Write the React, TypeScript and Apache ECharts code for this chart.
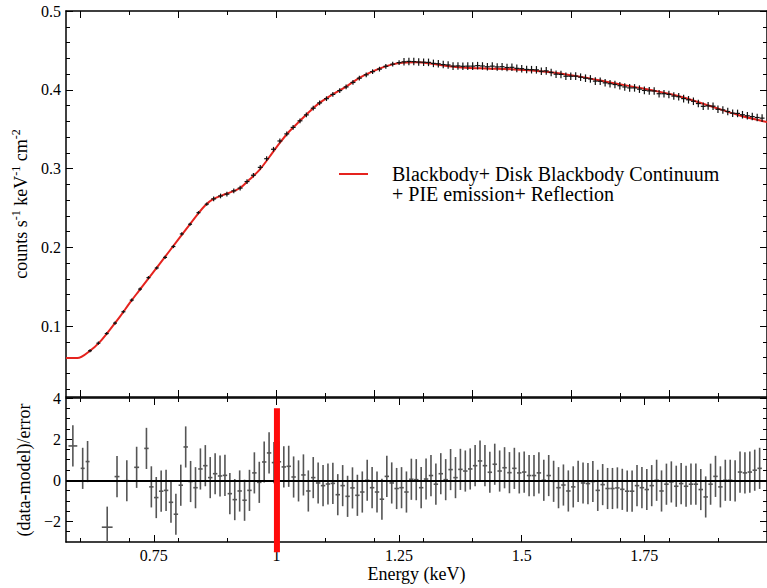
import React, { useEffect, useRef } from "react";
import * as echarts from "echarts";

const FONT = "'Liberation Serif', 'Times New Roman', Times, serif";

// ---- model curve (top panel, red) ----
const MODEL_E = [0.571, 0.594, 0.62, 0.64, 0.661, 0.681, 0.701, 0.72, 0.76, 0.8, 0.84, 0.855, 0.87, 0.898, 0.925, 0.945, 0.965, 0.986, 1.006, 1.026, 1.047, 1.067, 1.087, 1.114, 1.142, 1.169, 1.195, 1.224, 1.25, 1.285, 1.317, 1.352, 1.386, 1.427, 1.48, 1.549, 1.616, 1.683, 1.752, 1.819, 1.886, 1.941, 2.0];
const MODEL_FLUX = [0.0595, 0.0595, 0.0687, 0.08, 0.096, 0.112, 0.1295, 0.145, 0.1775, 0.21, 0.2425, 0.2535, 0.261, 0.268, 0.275, 0.286, 0.298, 0.315, 0.332, 0.347, 0.36, 0.372, 0.383, 0.394, 0.404, 0.415, 0.423, 0.43, 0.434, 0.435, 0.433, 0.43, 0.428, 0.427, 0.426, 0.423, 0.417, 0.409, 0.401, 0.392, 0.379, 0.368, 0.359];

// ---- data points (top panel, black crosses) ----
const TOP_LOW_E = [0.62, 0.637, 0.654, 0.671, 0.688, 0.705, 0.722, 0.739, 0.756, 0.773, 0.79, 0.807, 0.824, 0.841, 0.858];
const TOP_LOW_FLUX = [0.0687, 0.0783, 0.0906, 0.1038, 0.1182, 0.133, 0.147, 0.1615, 0.1738, 0.1872, 0.201, 0.217, 0.2293, 0.244, 0.2548];
const TOP_LOW_ERR = 0.002;
const TOP_LOW_HW = 0.004;

const TOP_MID_E = [0.872, 0.886, 0.899, 0.913, 0.926, 0.94, 0.953, 0.967, 0.98, 0.994, 1.007, 1.021, 1.034, 1.048, 1.061, 1.075, 1.088, 1.102, 1.115, 1.129, 1.142, 1.156, 1.169, 1.183, 1.196, 1.21, 1.223, 1.237, 1.25];
const TOP_MID_FLUX = [0.2615, 0.2652, 0.2675, 0.2717, 0.2752, 0.2835, 0.2915, 0.3015, 0.3125, 0.3245, 0.335, 0.344, 0.3522, 0.3606, 0.3681, 0.3766, 0.3833, 0.3887, 0.3941, 0.399, 0.4036, 0.4093, 0.4147, 0.419, 0.423, 0.4262, 0.4298, 0.4325, 0.4345];
const TOP_MID_ERR = 0.003;
const TOP_MID_HW = 0.005;

const TOP_HIGH_E = [
  1.26, 1.27, 1.28, 1.29, 1.3, 1.31, 1.32, 1.33, 1.34, 1.35,
  1.36, 1.37, 1.38, 1.39, 1.4, 1.41, 1.42, 1.43, 1.44, 1.45,
  1.46, 1.47, 1.48, 1.49, 1.5, 1.51, 1.52, 1.53, 1.54, 1.55,
  1.56, 1.57, 1.58, 1.59, 1.6, 1.61, 1.62, 1.63, 1.64, 1.65,
  1.66, 1.67, 1.68, 1.69, 1.7, 1.71, 1.72, 1.73, 1.74, 1.75,
  1.76, 1.77, 1.78, 1.79, 1.8, 1.81, 1.82, 1.83, 1.84, 1.85,
  1.86, 1.87, 1.88, 1.89, 1.9, 1.91, 1.92, 1.93, 1.94, 1.95,
  1.96, 1.97, 1.98, 1.99,
];
const TOP_HIGH_FLUX = [
  0.4355, 0.436, 0.4358, 0.4352, 0.435, 0.4348, 0.4335, 0.433, 0.432, 0.4315,
  0.43, 0.4303, 0.4298, 0.43, 0.43, 0.4306, 0.4302, 0.4292, 0.43, 0.429,
  0.4293, 0.4282, 0.4285, 0.4272, 0.4268, 0.4258, 0.4255, 0.4253, 0.4235, 0.424,
  0.422, 0.4198, 0.4195, 0.4172, 0.4172, 0.4173, 0.416, 0.4147, 0.4138, 0.411,
  0.4108, 0.4088, 0.4077, 0.4067, 0.4052, 0.4036, 0.4024, 0.4024, 0.4008, 0.3992,
  0.3986, 0.3985, 0.395, 0.395, 0.3941, 0.392, 0.3912, 0.3888, 0.3873, 0.3854,
  0.3825, 0.379, 0.3796, 0.3792, 0.3752, 0.3744, 0.3724, 0.3703, 0.37, 0.3683,
  0.367, 0.366, 0.3648, 0.364,
];
const TOP_HIGH_ERR = 0.0048;
const TOP_HIGH_HW = 0.005;

// ---- residuals (bottom panel) ----
const RESID_EARLY_E = [0.585, 0.605, 0.615, 0.655, 0.675, 0.695, 0.715];
const RESID_EARLY_VAL = [1.67, 0.58, 0.91, -2.28, 0.18, -0.02, 0.63];
const RESID_EARLY_HW = [0.009, 0.004, 0.004, 0.011, 0.005, 0.005, 0.005];

const RESID_E = [
  0.735, 0.745, 0.755, 0.765, 0.775, 0.785, 0.795, 0.805, 0.815, 0.825,
  0.835, 0.845, 0.855, 0.865, 0.875, 0.885, 0.895, 0.905, 0.915, 0.925,
  0.935, 0.945, 0.955, 0.965, 0.975, 0.985, 0.995, 1.005, 1.015, 1.025,
  1.035, 1.045, 1.055, 1.065, 1.075, 1.085, 1.095, 1.105, 1.115, 1.125,
  1.135, 1.145, 1.155, 1.165, 1.175, 1.185, 1.195, 1.205, 1.215, 1.225,
  1.235, 1.245, 1.255, 1.265, 1.275, 1.285, 1.295, 1.305, 1.315, 1.325,
  1.335, 1.345, 1.355, 1.365, 1.375, 1.385, 1.395, 1.405, 1.415, 1.425,
  1.435, 1.445, 1.455, 1.465, 1.475, 1.485, 1.495, 1.505, 1.515, 1.525,
  1.535, 1.545, 1.555, 1.565, 1.575, 1.585, 1.595, 1.605, 1.615, 1.625,
  1.635, 1.645, 1.655, 1.665, 1.675, 1.685, 1.695, 1.705, 1.715, 1.725,
  1.735, 1.745, 1.755, 1.765, 1.775, 1.785, 1.795, 1.805, 1.815, 1.825,
  1.835, 1.845, 1.855, 1.865, 1.875, 1.885, 1.895, 1.905, 1.915, 1.925,
  1.935, 1.945, 1.955, 1.965, 1.975, 1.985,
];
const RESID_VAL = [
  1.55, -0.32, -0.84, -0.53, -0.49, -1.07, -1.65, -0.24, 1.62, -0.06,
  -0.36, 0.55, 0.71, 0.13, 0.32, 0.21, 0.24, -0.65, -0.94, -0.52,
  -0.97, -0.49, 0.36, -0.1, 0.89, 1.33, 0.86, 0.9, 0.65, 0.68,
  0.16, -0.03, 0.26, -0.52, 0.13, -0.13, -0.26, -0.18, -0.15, -0.7,
  -0.26, -0.78, -0.37, -0.73, -0.57, 0.0, -0.36, -0.57, -0.92, 0.19,
  -0.13, -0.4, -0.36, -0.57, 0.05, 0.03, -0.36, 0.06, 0.23, -0.19,
  0.32, 0.03, 0.52, 0.13, 0.53, 0.45, 0.55, 0.71, 0.94, 0.71,
  0.39, 0.78, 0.45, 0.61, 0.37, 0.58, 0.36, 0.4, 0.23, 0.23,
  0.36, 0.0, 0.23, -0.05, -0.36, -0.23, -0.52, -0.32, -0.05, -0.13,
  -0.16, -0.06, -0.49, -0.21, -0.4, -0.4, -0.37, -0.44, -0.53, -0.53,
  -0.26, -0.36, -0.45, -0.26, 0.0, -0.52, -0.19, -0.08, -0.29, -0.16,
  -0.29, -0.19, -0.19, -0.45, -0.81, -0.19, 0.19, -0.32, 0.0, 0.0,
  -0.03, 0.4, 0.36, 0.4, 0.49, 0.58,
];
const RESID_HW = 0.0045;
const RESID_ERR = 1;

// highlighted energy (red bar) and its vertical extent in residual units
const MARK_E = 1.0;
const MARK_RANGE = [3.5, -3.5];

// ---- axes ----
const X_MIN = 0.571;
const X_MAX = 2.0;
const TOP_Y = [0.01, 0.5];
const BOT_Y = [-3, 4];
const TOP_X_MAJOR = [0.6, 0.8, 1.0, 1.2, 1.4, 1.6, 1.8];
const TOP_X_MINOR = [0.7, 0.9, 1.1, 1.3, 1.5, 1.7, 1.9];
const BOT_X_MAJOR = [0.75, 1, 1.25, 1.5, 1.75];
const BOT_X_MINOR = [0.6, 0.7, 0.8, 0.9, 1.1, 1.2, 1.3, 1.4, 1.6, 1.7, 1.8, 1.9];
const TOP_Y_MAJOR = [0.1, 0.2, 0.3, 0.4, 0.5];
const TOP_Y_MINOR = [0.02, 0.04, 0.06, 0.08, 0.12, 0.14, 0.16, 0.18, 0.22, 0.24, 0.26, 0.28, 0.32, 0.34, 0.36, 0.38, 0.42, 0.44, 0.46, 0.48];
const BOT_Y_MAJOR = [-2, 0, 2, 4];
const BOT_Y_MINOR = [-2.5, -1.5, -1, -0.5, 0.5, 1, 1.5, 2.5, 3, 3.5];

const LEGEND_LINES = ["Blackbody+ Disk Blackbody Continuum", "+ PIE emission+ Reflection"];
const RED = "#e5231e";
const LABEL_SIZE = 16;
const TITLE_SIZE = 18;

function crossRenderer(color: string, width: number) {
  return (params: any, api: any) => {
    const x = api.value(0);
    const y = api.value(1);
    const ey = api.value(2);
    const hw = api.value(3);
    const c = api.coord([x, y]);
    const t = api.coord([x, y + ey]);
    const b = api.coord([x, y - ey]);
    const l = api.coord([x - hw, y]);
    const r = api.coord([x + hw, y]);
    const style = { stroke: color, lineWidth: width, fill: "none" };
    return {
      type: "group",
      children: [
        { type: "line", shape: { x1: c[0], y1: t[1], x2: c[0], y2: b[1] }, style },
        { type: "line", shape: { x1: l[0], y1: c[1], x2: r[0], y2: c[1] }, style },
      ],
    };
  };
}

function xAxis(grid: number, position: string, ticks: number[], len: number, major: boolean, labels?: number[], name?: string) {
  return {
    type: "value",
    gridIndex: grid,
    position,
    min: X_MIN,
    max: X_MAX,
    name: name || "",
    nameLocation: "middle",
    nameGap: 23,
    nameTextStyle: { fontFamily: FONT, fontSize: TITLE_SIZE, color: "#000" },
    axisLine: { show: major, onZero: false, lineStyle: { color: "#000", width: 1.5 } },
    axisTick: { show: true, inside: true, length: len, customValues: ticks, lineStyle: { color: "#000", width: 1 } },
    axisLabel: labels
      ? { show: true, customValues: labels, fontFamily: FONT, fontSize: LABEL_SIZE, color: "#000", margin: 5 }
      : { show: false },
    splitLine: { show: false },
  };
}

function yAxis(grid: number, position: string, range: number[], ticks: number[], len: number, major: boolean, labels?: number[], name?: any, nameGap?: number) {
  return {
    type: "value",
    gridIndex: grid,
    position,
    min: range[0],
    max: range[1],
    name: name || "",
    nameLocation: "middle",
    nameGap: nameGap || 30,
    nameRotate: 90,
    nameTextStyle: {
      fontFamily: FONT,
      fontSize: TITLE_SIZE,
      color: "#000",
      rich: {
        a: { fontFamily: FONT, fontSize: TITLE_SIZE, color: "#000", lineHeight: 22 },
        s: { fontFamily: FONT, fontSize: 12, color: "#000", lineHeight: 14, verticalAlign: "top" },
      },
    },
    axisLine: { show: major, onZero: false, lineStyle: { color: "#000", width: 1.5 } },
    axisTick: { show: true, inside: true, length: len, customValues: ticks, lineStyle: { color: "#000", width: 1 } },
    axisLabel: labels
      ? {
          show: true,
          customValues: labels,
          fontFamily: FONT,
          fontSize: LABEL_SIZE,
          color: "#000",
          margin: 5,
          formatter: (v: number) => String(v).replace("-", "\u2212"),
        }
      : { show: false },
    splitLine: { show: false },
  };
}

export default function App() {
  const ref = useRef<HTMLDivElement>(null);
  useEffect(() => {
    document.body.style.margin = "0";
    const chart = echarts.init(ref.current!, null, { renderer: "svg" });

    const modelData = MODEL_E.map((e, i) => [e, MODEL_FLUX[i]]);
    const topData = [
      ...TOP_LOW_E.map((e, i) => [e, TOP_LOW_FLUX[i], TOP_LOW_ERR, TOP_LOW_HW]),
      ...TOP_MID_E.map((e, i) => [e, TOP_MID_FLUX[i], TOP_MID_ERR, TOP_MID_HW]),
      ...TOP_HIGH_E.map((e, i) => [e, TOP_HIGH_FLUX[i], TOP_HIGH_ERR, TOP_HIGH_HW]),
    ];
    const residData = [
      ...RESID_EARLY_E.map((e, i) => [e, RESID_EARLY_VAL[i], RESID_ERR, RESID_EARLY_HW[i]]),
      ...RESID_E.map((e, i) => [e, RESID_VAL[i], RESID_ERR, RESID_HW]),
    ];

    const option: any = {
      animation: false,
      backgroundColor: "#fff",
      grid: [
        { left: 66, right: -2, top: 11, height: 386 },
        { left: 66, right: -2, top: 398, height: 144 },
      ],
      xAxis: [
        xAxis(0, "bottom", TOP_X_MAJOR, 7, true),
        xAxis(0, "bottom", TOP_X_MINOR, 4, false),
        xAxis(0, "top", TOP_X_MAJOR, 7, true),
        xAxis(0, "top", TOP_X_MINOR, 4, false),
        xAxis(1, "bottom", BOT_X_MAJOR, 7, true, BOT_X_MAJOR, "Energy (keV)"),
        xAxis(1, "bottom", BOT_X_MINOR, 4, false),
        xAxis(1, "top", BOT_X_MAJOR, 7, true),
        xAxis(1, "top", BOT_X_MINOR, 4, false),
      ],
      yAxis: [
        yAxis(0, "left", TOP_Y, TOP_Y_MAJOR, 7, true, TOP_Y_MAJOR, "{a|counts s}{s|-1}{a| keV}{s|-1}{a| cm}{s|-2}", 33),
        yAxis(0, "left", TOP_Y, TOP_Y_MINOR, 4, false),
        yAxis(0, "right", TOP_Y, TOP_Y_MAJOR, 7, true),
        yAxis(0, "right", TOP_Y, TOP_Y_MINOR, 4, false),
        yAxis(1, "left", BOT_Y, BOT_Y_MAJOR, 7, true, BOT_Y_MAJOR, "(data-model)/error", 29),
        yAxis(1, "left", BOT_Y, BOT_Y_MINOR, 4, false),
        yAxis(1, "right", BOT_Y, BOT_Y_MAJOR, 7, true),
        yAxis(1, "right", BOT_Y, BOT_Y_MINOR, 4, false),
      ],
      series: [
        {
          name: "model",
          type: "line",
          xAxisIndex: 0,
          yAxisIndex: 0,
          data: modelData,
          showSymbol: false,
          symbol: "none",
          smooth: 0.35,
          lineStyle: { color: RED, width: 2 },
          z: 2,
        },
        {
          name: "data",
          type: "custom",
          xAxisIndex: 0,
          yAxisIndex: 0,
          data: topData,
          dimensions: ["e", "flux", "err", "hw"],
          encode: { x: 0, y: 1 },
          renderItem: crossRenderer("#111", 1.2),
          clip: true,
          z: 3,
        },
        {
          name: "residual",
          type: "custom",
          xAxisIndex: 4,
          yAxisIndex: 4,
          data: residData,
          dimensions: ["e", "res", "err", "hw"],
          encode: { x: 0, y: 1 },
          renderItem: crossRenderer("#555", 1.6),
          clip: true,
          z: 3,
        },
        {
          name: "zero",
          type: "line",
          xAxisIndex: 4,
          yAxisIndex: 4,
          data: [],
          markLine: {
            silent: true,
            symbol: ["none", "none"],
            label: { show: false },
            lineStyle: { color: "#000", width: 2.2, type: "solid" },
            data: [{ yAxis: 0 }],
          },
          z: 4,
        },
        {
          name: "mark",
          type: "custom",
          xAxisIndex: 4,
          yAxisIndex: 4,
          data: [[MARK_E, MARK_RANGE[0], MARK_RANGE[1]]],
          encode: { x: 0, y: [1, 2] },
          clip: false,
          z: 10,
          renderItem: (params: any, api: any) => {
            const t = api.coord([api.value(0), api.value(1)]);
            const b = api.coord([api.value(0), api.value(2)]);
            return {
              type: "rect",
              shape: { x: t[0] - 2.5, y: t[1], width: 6, height: b[1] - t[1] },
              style: { fill: "#ff0a0a" },
            };
          },
        },
      ],
      graphic: [
        { type: "line", shape: { x1: 339, y1: 174, x2: 368, y2: 174 }, style: { stroke: RED, lineWidth: 2 } },
        {
          type: "text",
          x: 392,
          y: 174,
          style: { text: LEGEND_LINES[0], fontFamily: FONT, fontSize: 20, fill: "#000", verticalAlign: "middle" },
        },
        {
          type: "text",
          x: 392,
          y: 194,
          style: { text: LEGEND_LINES[1], fontFamily: FONT, fontSize: 20, fill: "#000", verticalAlign: "middle" },
        },
      ],
    };
    chart.setOption(option);
    return () => chart.dispose();
  }, []);
  return <div ref={ref} style={{ width: 767, height: 588, background: "#fff" }} />;
}
